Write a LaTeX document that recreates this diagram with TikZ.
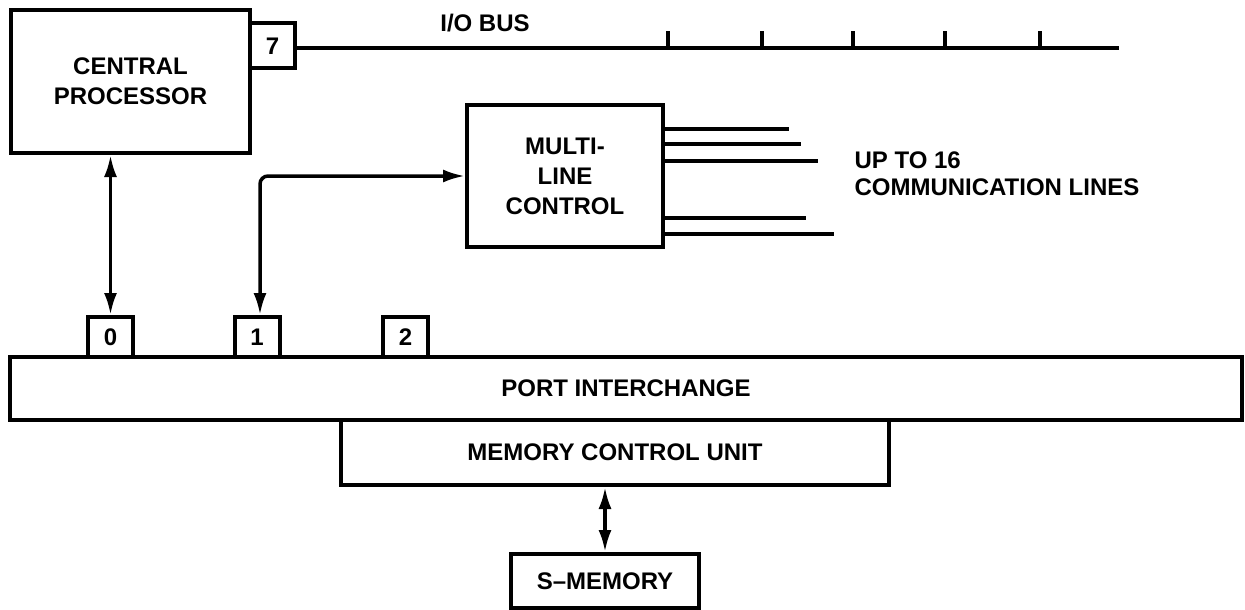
\documentclass[tikz,border=0pt]{standalone}
\usepackage{fontspec}
\setmainfont{Liberation Sans}
\usetikzlibrary{arrows.meta, positioning}

\begin{document}
\begin{tikzpicture}[
    x=1pt, y=-1pt,
    font=\fontsize{24}{30}\selectfont\bfseries,
    box/.style={rectangle, draw, line width=4pt, inner sep=0pt, align=center},
    port/.style={box, minimum width=45pt, minimum height=40pt},
    wire/.style={line width=3.5pt},
    link/.style={{Latex[length=22pt,width=13pt]}-{Latex[length=22pt,width=13pt]}, line width=3.5pt}
]
    \useasboundingbox (0,0) rectangle (1245,610);

    % processor and I/O bus
    \node[box, minimum width=239pt, minimum height=143pt] (cpu) at (130.5,81.5) {CENTRAL\\PROCESSOR};
    \node[box, minimum width=45pt, minimum height=45pt] (p7) at (272.5,46) {7};
    \coordinate (busend) at (1119,48);
    \draw[wire] (p7.east |- busend) -- (busend);
    \node (iobus) at (485,23) {I/O BUS};
    \foreach \x in {668,762,853,945,1040}
        \draw[wire] (\x,48) -- (\x,31);

    % multi-line control
    \node[box, minimum width=196pt, minimum height=142pt] (mlc) at (565,176) {MULTI-\\LINE\\CONTROL};
    \foreach \dy/\len in {47/124, 32/136, 15/153, -42/141, -58/169}
        \draw[wire] ([yshift=\dy pt]mlc.east) -- ++(\len,0);
    \node[anchor=west, align=left] (commlines) at (851,173.5) {UP TO 16\\[-3pt]COMMUNICATION LINES};

    % ports and memory
    \node[box, minimum width=1232pt, minimum height=63pt] (pi) at (626,388.5) {PORT INTERCHANGE};
    \node[port] (p0) at (110.5,337) {0};
    \node[port] (p1) at (257,337) {1};
    \node[port] (p2) at (405.5,337) {2};
    \node[box, minimum width=548pt, minimum height=65pt] (mcu) at (615,452.5) {MEMORY CONTROL UNIT};
    \node[box, minimum width=188pt, minimum height=54pt] (smem) at (605,581) {S--MEMORY};

    \draw[link] (p0.north |- cpu.south) -- (p0.north);
    \draw[link, rounded corners=8pt] ([xshift=3pt]p1.north) |- (mlc.west);
    \draw[link] (smem.north |- mcu.south) -- (smem.north);

\end{tikzpicture}
\end{document}
